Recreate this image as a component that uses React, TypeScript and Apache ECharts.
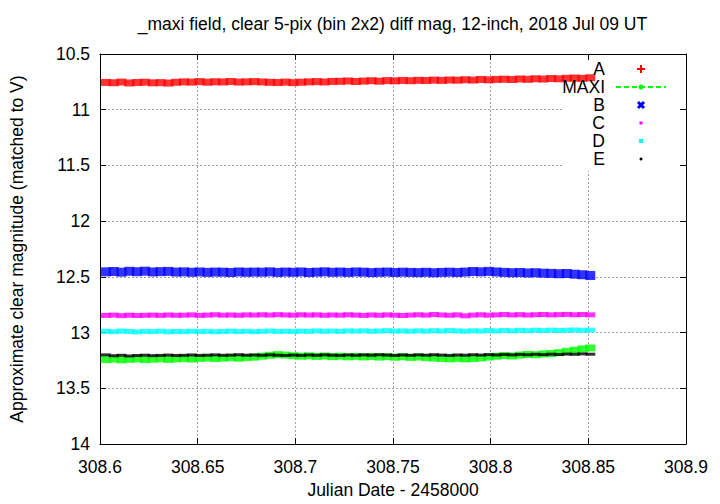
import React, { useEffect, useRef } from "react";
import * as echarts from "echarts";

const TITLE = "_maxi field, clear 5-pix (bin 2x2) diff mag, 12-inch, 2018 Jul 09 UT";
const X_NAME = "Julian Date - 2458000";
const Y_NAME = "Approximate clear magnitude (matched to V)";

const times = [
  308.603, 308.607, 308.611, 308.615, 308.619, 308.623, 308.627, 308.631, 308.635, 308.639,
  308.643, 308.647, 308.651, 308.655, 308.659, 308.663, 308.667, 308.671, 308.675, 308.679,
  308.683, 308.687, 308.691, 308.695, 308.699, 308.703, 308.707, 308.711, 308.715, 308.719,
  308.723, 308.727, 308.731, 308.735, 308.739, 308.743, 308.747, 308.751, 308.755, 308.759,
  308.763, 308.767, 308.771, 308.775, 308.779, 308.783, 308.787, 308.791, 308.795, 308.799,
  308.803, 308.807, 308.811, 308.815, 308.819, 308.823, 308.827, 308.831, 308.835, 308.839,
  308.843, 308.847, 308.851,
];

const magA = [
  10.755, 10.758, 10.752, 10.760, 10.756, 10.753, 10.759, 10.757, 10.761, 10.754,
  10.750, 10.752, 10.748, 10.753, 10.749, 10.751, 10.747, 10.752, 10.750, 10.748,
  10.751, 10.754, 10.756, 10.752, 10.757, 10.753, 10.750, 10.748, 10.751, 10.746,
  10.745, 10.742, 10.747, 10.743, 10.740, 10.744, 10.739, 10.741, 10.737, 10.740,
  10.736, 10.738, 10.734, 10.737, 10.733, 10.735, 10.731, 10.734, 10.729, 10.732,
  10.728, 10.726, 10.729, 10.724, 10.727, 10.722, 10.725, 10.720, 10.723, 10.718,
  10.716, 10.719, 10.713,
];

const magMAXI = [
  13.242, 13.238, 13.245, 13.240, 13.236, 13.243, 13.239, 13.235, 13.241, 13.237,
  13.233, 13.238, 13.232, 13.228, 13.233, 13.229, 13.225, 13.230, 13.224, 13.220,
  13.212, 13.204, 13.198, 13.202, 13.208, 13.212, 13.209, 13.214, 13.210, 13.216,
  13.212, 13.218, 13.214, 13.219, 13.215, 13.220, 13.216, 13.221, 13.217, 13.223,
  13.219, 13.225, 13.229, 13.232, 13.236, 13.232, 13.237, 13.233, 13.228, 13.220,
  13.212, 13.206, 13.210, 13.202, 13.196, 13.199, 13.192, 13.188, 13.180, 13.168,
  13.158, 13.146, 13.138,
];

const magB = [
  12.455, 12.452, 12.458, 12.450, 12.454, 12.449, 12.456, 12.453, 12.451, 12.457,
  12.455, 12.459, 12.456, 12.460, 12.457, 12.458, 12.461, 12.456, 12.459, 12.457,
  12.458, 12.455, 12.460, 12.457, 12.459, 12.456, 12.461, 12.458, 12.455, 12.459,
  12.457, 12.460, 12.456, 12.458, 12.462, 12.459, 12.457, 12.461, 12.458, 12.460,
  12.462, 12.459, 12.463, 12.460, 12.458, 12.461, 12.457, 12.452, 12.455, 12.451,
  12.456, 12.460, 12.463, 12.461, 12.465, 12.463, 12.467, 12.469, 12.472, 12.470,
  12.476, 12.481, 12.488,
];

const magC = [
  12.846, 12.843, 12.848, 12.844, 12.847, 12.845, 12.843, 12.846, 12.842, 12.845,
  12.844, 12.841, 12.846, 12.843, 12.840, 12.844, 12.842, 12.845, 12.841, 12.843,
  12.840, 12.843, 12.839, 12.842, 12.844, 12.840, 12.843, 12.841, 12.845, 12.842,
  12.844, 12.840, 12.843, 12.846, 12.842, 12.845, 12.841, 12.844, 12.847, 12.843,
  12.840, 12.844, 12.838, 12.842, 12.845, 12.841, 12.850, 12.843, 12.840, 12.844,
  12.841, 12.838, 12.842, 12.839, 12.843, 12.840, 12.838, 12.841, 12.839, 12.837,
  12.840, 12.838, 12.841,
];

const magD = [
  12.988, 12.992, 12.986, 12.990, 12.994, 12.989, 12.991, 12.987, 12.993, 12.990,
  12.992, 12.988, 12.991, 12.989, 12.993, 12.990, 12.987, 12.991, 12.988, 12.992,
  12.989, 12.986, 12.990, 12.988, 12.991, 12.987, 12.989, 12.985, 12.988, 12.986,
  12.989, 12.985, 12.987, 12.984, 12.988, 12.986, 12.983, 12.987, 12.985, 12.988,
  12.984, 12.987, 12.983, 12.986, 12.982, 12.985, 12.988, 12.984, 12.986, 12.982,
  12.985, 12.981, 12.984, 12.980, 12.983, 12.979, 12.982, 12.978, 12.981, 12.979,
  12.977, 12.980, 12.978,
];

const magE = [
  13.200, 13.208, 13.204, 13.210, 13.206, 13.203, 13.207, 13.205, 13.202, 13.206,
  13.204, 13.201, 13.205, 13.203, 13.200, 13.204, 13.202, 13.199, 13.203, 13.201,
  13.204, 13.200, 13.203, 13.206, 13.202, 13.205, 13.201, 13.204, 13.200, 13.203,
  13.205, 13.201, 13.204, 13.200, 13.203, 13.199, 13.202, 13.205, 13.201, 13.204,
  13.200, 13.203, 13.199, 13.202, 13.205, 13.201, 13.203, 13.199, 13.202, 13.198,
  13.201, 13.197, 13.200, 13.196, 13.199, 13.195, 13.198, 13.194, 13.197, 13.193,
  13.195, 13.191, 13.194,
];

const seriesNames = ["A", "MAXI", "B", "C", "D", "E"];
const seriesColors = ["#ff0000", "#00ff00", "#0000ff", "#ff00ff", "#00ffff", "#000000"];
const seriesValues = [magA, magMAXI, magB, magC, magD, magE];
const bandHeights = [7, 7, 9, 5, 5, 3];

const FONT = "'Liberation Sans', Arial, Helvetica, sans-serif";
const FS = 17.5;

export default function App() {
  const ref = useRef<HTMLDivElement>(null);

  useEffect(() => {
    if (!ref.current) return;
    const chart = echarts.init(ref.current, undefined, { renderer: "svg" });

    const textStyle = { fontFamily: FONT, fontSize: FS, color: "#000" };
    const fmtX = (v: number) => String(Number(v.toFixed(2)));

    const baseX = {
      type: "value" as const,
      min: 308.6,
      max: 308.9,
      interval: 0.05,
      axisLine: { show: true, onZero: false, lineStyle: { color: "#000", width: 1 } },
      axisTick: { show: true, inside: true, length: 6, lineStyle: { color: "#000" } },
    };
    const baseY = {
      type: "value" as const,
      inverse: true,
      min: 10.5,
      max: 14,
      interval: 0.5,
      axisLine: { show: true, onZero: false, lineStyle: { color: "#000", width: 1 } },
      axisTick: { show: true, inside: true, length: 6, lineStyle: { color: "#000" } },
    };
    const gridLine = { show: true, lineStyle: { color: "#a0a0a0", width: 1, type: [2, 2] as number[] } };

    const legendX = 641;
    const legendTextX = 605;
    const legendYs = [69, 87, 105, 123, 141, 159];

    const graphics: any[] = [
      { type: "rect", z: 1, shape: { x: 562, y: 61, width: 117, height: 110 }, style: { fill: "#ffffff" } },
    ];
    seriesNames.forEach((n, i) => {
      graphics.push({
        type: "text",
        z: 10,
        x: legendTextX,
        y: legendYs[i],
        style: {
          text: n,
          fill: "#000",
          font: `${FS}px ${FONT}`,
          lineHeight: 16,
          textAlign: "right",
          textVerticalAlign: "middle",
        },
      });
    });
    const ly = legendYs;
    graphics.push(
      { type: "line", z: 10, shape: { x1: legendX - 4, y1: ly[0], x2: legendX + 4, y2: ly[0] }, style: { stroke: seriesColors[0], lineWidth: 2 } },
      { type: "line", z: 10, shape: { x1: legendX, y1: ly[0] - 4, x2: legendX, y2: ly[0] + 4 }, style: { stroke: seriesColors[0], lineWidth: 2 } },
      { type: "line", z: 10, shape: { x1: 616, y1: ly[1], x2: 666, y2: ly[1] }, style: { stroke: seriesColors[1], lineWidth: 2, lineDash: [5, 3] } },
      { type: "circle", z: 10, shape: { cx: legendX, cy: ly[1], r: 2.5 }, style: { fill: seriesColors[1] } },
      { type: "line", z: 10, shape: { x1: legendX - 3, y1: ly[2] - 3, x2: legendX + 3, y2: ly[2] + 3 }, style: { stroke: seriesColors[2], lineWidth: 3 } },
      { type: "line", z: 10, shape: { x1: legendX - 3, y1: ly[2] + 3, x2: legendX + 3, y2: ly[2] - 3 }, style: { stroke: seriesColors[2], lineWidth: 3 } },
      { type: "rect", z: 10, shape: { x: legendX - 1.5, y: ly[3] - 1.5, width: 3, height: 3 }, style: { fill: seriesColors[3] } },
      { type: "rect", z: 10, shape: { x: legendX - 2, y: ly[4] - 2, width: 4, height: 4 }, style: { fill: seriesColors[4] } },
      { type: "circle", z: 10, shape: { cx: legendX, cy: ly[5], r: 1.5 }, style: { fill: seriesColors[5] } }
    );

    const option: any = {
      animation: false,
      backgroundColor: "#ffffff",
      title: {
        text: TITLE,
        left: 392.5,
        top: 15,
        padding: 0,
        textAlign: "center",
        textStyle: { ...textStyle, fontWeight: "normal" },
      },
      grid: { left: 99, right: 34, top: 54, bottom: 58, containLabel: false },
      xAxis: [
        {
          ...baseX,
          position: "bottom",
          name: X_NAME,
          nameLocation: "middle",
          nameGap: 37,
          nameTextStyle: textStyle,
          axisLabel: { ...textStyle, margin: 14, formatter: fmtX },
          splitLine: gridLine,
        },
        {
          ...baseX,
          position: "top",
          axisLabel: { show: false },
          splitLine: { show: false },
        },
      ],
      yAxis: [
        {
          ...baseY,
          position: "left",
          name: Y_NAME,
          nameLocation: "middle",
          nameGap: 74,
          nameTextStyle: textStyle,
          axisLabel: { ...textStyle, margin: 10 },
          splitLine: gridLine,
        },
        {
          ...baseY,
          position: "right",
          axisLabel: { show: false },
          splitLine: { show: false },
        },
      ],
      series: seriesNames.map((n, i) => ({
        name: n,
        type: "scatter",
        xAxisIndex: 0,
        yAxisIndex: 0,
        symbol: "rect",
        symbolSize: [10, bandHeights[i]],
        itemStyle: { color: seriesColors[i] },
        data: times.map((t, k) => [t, seriesValues[i][k]]),
        z: 2,
      })),
      graphic: { elements: graphics },
    };

    chart.setOption(option);
    return () => chart.dispose();
  }, []);

  return <div ref={ref} style={{ position: "absolute", left: 0, top: 0, width: 720, height: 504 }} />;
}
